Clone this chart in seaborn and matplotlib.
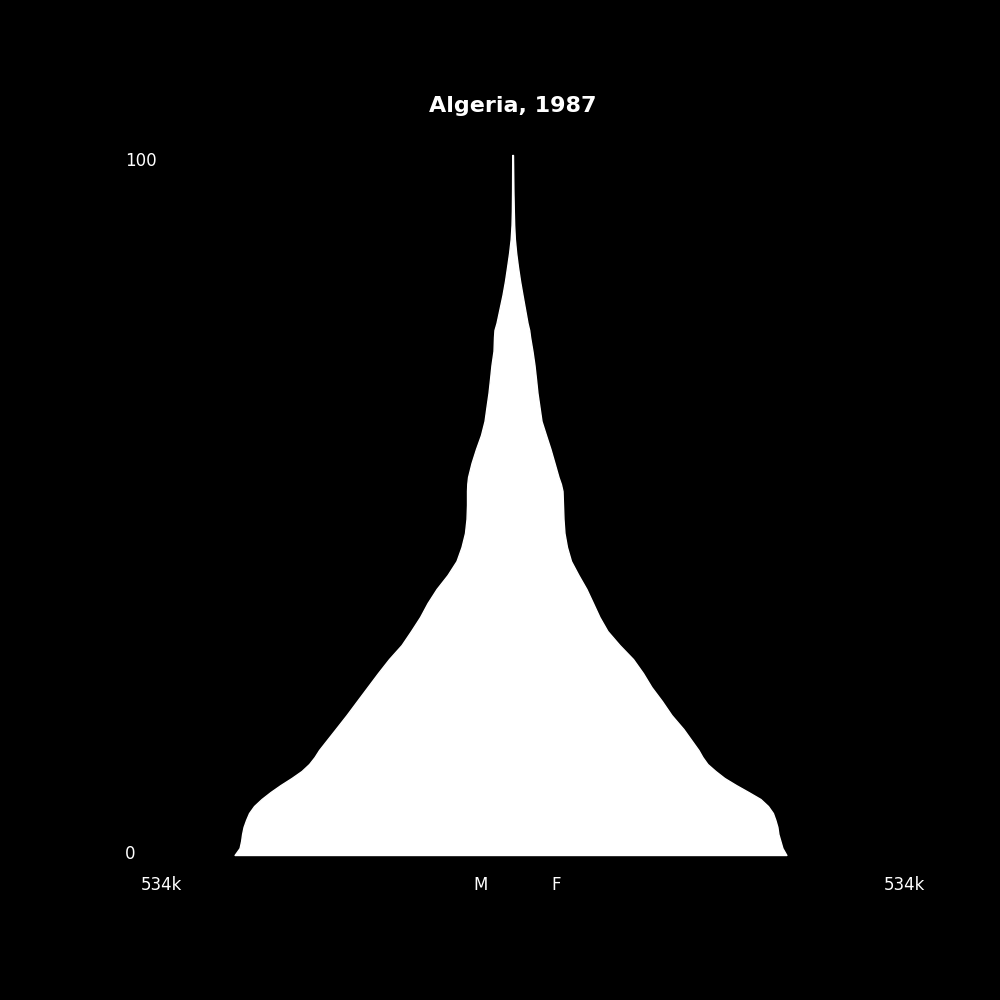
import matplotlib
matplotlib.use("Agg")
import matplotlib.pyplot as plt
import seaborn as sns
import numpy as np
import pandas as pd

# ---- data (thousands of people, by single-year age) ----
ages = [0, 1, 2, 3, 4, 5, 6, 7, 8, 9, 10, 11, 12, 13, 14, 15, 16, 18, 20, 22,
        24, 26, 28, 30, 32, 34, 36, 38, 40, 42, 44, 46, 48, 50, 52, 53, 54, 56,
        58, 60, 62, 64, 66, 68, 70, 72, 74, 75, 76, 78, 80, 82, 84, 86, 88, 90,
        92, 95, 100]
male = [399.5, 392.3, 390.1, 388.7, 386.6, 383.0, 378.7, 371.5, 360.7, 347.8,
        333.4, 317.6, 303.2, 292.4, 284.5, 278.1, 270.2, 254.3, 238.5, 223.5,
        208.4, 193.3, 177.5, 159.5, 145.9, 132.9, 122.1, 109.2, 93.4, 80.5,
        73.3, 68.3, 66.1, 65.4, 65.4, 65.0, 63.9, 58.9, 52.5, 45.3, 40.2, 37.4,
        34.5, 32.3, 30.2, 27.3, 26.6, 25.9, 23.0, 18.7, 14.4, 10.8, 7.8, 4.9,
        2.6, 1.4, 0.9, 0.6, 0.4]
female = [393.7, 388.0, 385.1, 382.2, 380.8, 377.9, 374.3, 367.2, 356.4, 339.1,
          321.2, 304.6, 291.7, 280.2, 273.0, 267.3, 260.1, 245.7, 228.5, 214.8,
          199.7, 187.5, 173.2, 153.8, 136.5, 125.0, 115.7, 106.3, 94.8, 84.1,
          78.3, 74.7, 73.3, 72.6, 71.9, 69.6, 66.1, 60.4, 54.6, 48.1, 41.7,
          38.8, 35.9, 33.8, 31.6, 28.7, 25.3, 24.0, 21.6, 18.0, 14.4, 10.9, 7.9,
          5.3, 3.4, 2.4, 1.9, 1.3, 0.7]
max_label = "534k"
scale_max = 534.0
country = "Algeria"
year = 1987

df = pd.DataFrame({"age": ages, "male": male, "female": female})

sns.set_theme(style="dark", rc={"axes.facecolor": "black",
                                "figure.facecolor": "black"})
plt.rcParams["font.family"] = ["DejaVu Sans"]

fig, ax = plt.subplots(figsize=(10, 10), dpi=100)
fig.patch.set_facecolor("black")
ax.set_facecolor("black")

ax.fill_betweenx(df["age"], -df["male"], df["female"], color="white",
                 edgecolor="white", linewidth=1)

L = 557.0
ax.set_xlim(-L, L)
ax.set_ylim(-5, 105)
ax.set_xticks([])
ax.set_yticks([])
sns.despine(ax=ax, left=True, bottom=True)
for s in ax.spines.values():
    s.set_visible(False)
ax.grid(False)

ax.set_title(f"{country}, {year}", color="white", fontsize=16,
             fontweight="bold")

tk = dict(color="white", fontsize=12)
ax.text(-L, 98.43, "100", ha="left", va="baseline", **tk)
ax.text(-L, -0.57, "0", ha="left", va="baseline", **tk)
ax.text(-scale_max, -5, max_label, ha="left", va="baseline", **tk)
ax.text(scale_max, -5, max_label, ha="left", va="baseline", **tk)
ax.text(-55.6, -5, "M", ha="left", va="baseline", **tk)
ax.text(55.6, -5, "F", ha="left", va="baseline", **tk)

fig.savefig("out.png", dpi=100, facecolor="black")
